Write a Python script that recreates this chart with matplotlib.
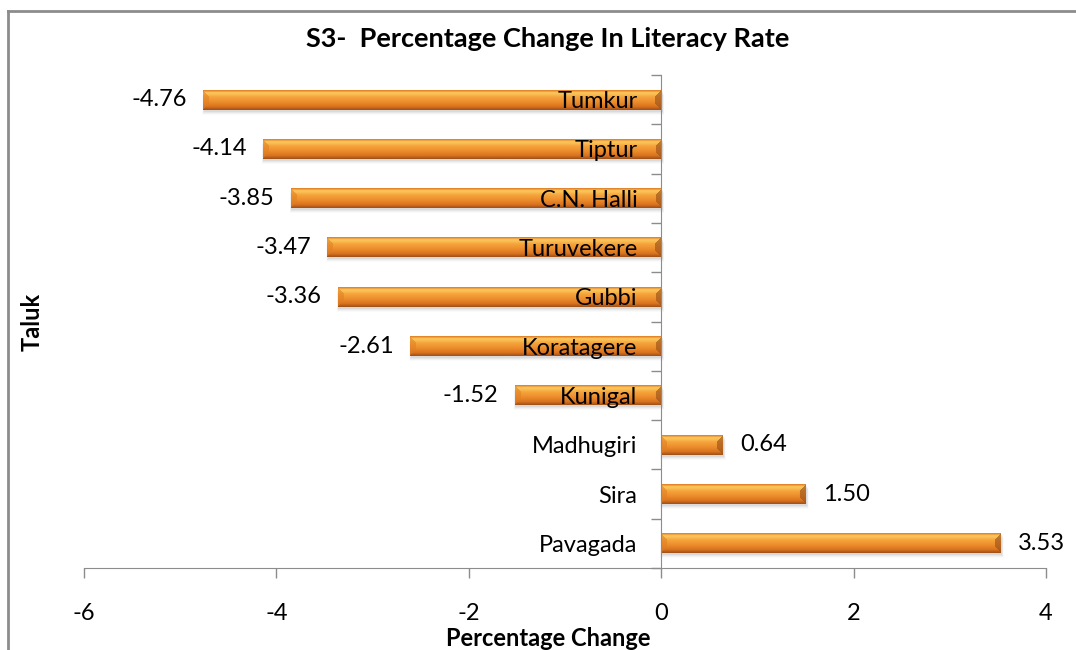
import matplotlib.pyplot as plt
import numpy as np
from matplotlib.colors import to_rgb
from matplotlib.lines import Line2D
from matplotlib.patches import Rectangle

# Literacy rate change per taluk, top to bottom as drawn
taluks = ['Tumkur', 'Tiptur', 'C.N. Halli', 'Turuvekere', 'Gubbi',
          'Koratagere', 'Kunigal', 'Madhugiri', 'Sira', 'Pavagada']
pct_change = [-4.76, -4.14, -3.85, -3.47, -3.36, -2.61, -1.52, 0.64, 1.50, 3.53]
x_ticks = [-6, -4, -2, 0, 2, 4]

plt.rcParams['font.family'] = ['Lato', 'DejaVu Sans']

W, H = 1076, 650
fig = plt.figure(figsize=(W / 100, H / 100), dpi=100)
ax = fig.add_axes([84 / W, 1 - 568 / H, (1046 - 84) / W, (568 - 75) / H])

BAR_H = 0.4
px_per_x = (1046 - 84) / 10.0
px_per_y = (568 - 75) / 10.0

# vertical shading of the bar face, top to bottom
grad_pos = [0.0, 0.12, 0.35, 0.6, 0.85, 1.0]
grad_col = ['#e3852a', '#fcc95c', '#f5a33c', '#ec8d2c', '#d8721f', '#a4531a']


def bevel_bar(width_px, height_px, bevel=6):
    # shaded orange bar with bevelled ends, returned as an RGB array
    h, w = int(round(height_px)), max(int(round(width_px)), 2)
    yy, xx = np.mgrid[0:h, 0:w]
    t = yy / max(h - 1, 1)
    cols = np.array([to_rgb(c) for c in grad_col])
    img = np.stack([np.interp(t, grad_pos, cols[:, k]) for k in range(3)], axis=-1)
    d_top, d_bot = yy, h - 1 - yy
    d_left, d_right = xx, w - 1 - xx
    d = np.stack([d_top, d_bot, d_left, d_right])
    nearest = d.argmin(axis=0)
    in_bevel = d.min(axis=0) < bevel
    left_m = in_bevel & (nearest == 2)
    right_m = in_bevel & (nearest == 3)
    img[left_m] = 0.45 * img[left_m] + 0.55 * np.array(to_rgb('#e07e22'))
    img[right_m] = 0.35 * img[right_m] + 0.65 * np.array(to_rgb('#9c5219'))
    return np.clip(img, 0, 1)


for i, (name, v) in enumerate(zip(taluks, pct_change)):
    x0, x1 = min(0, v), max(0, v)
    y0, y1 = i - BAR_H / 2, i + BAR_H / 2
    # soft shadow under each bar
    for k, a in enumerate([0.10, 0.07, 0.05, 0.03]):
        off = (2 + k) / px_per_y
        grow = (1 + k) / px_per_x
        ax.add_patch(Rectangle((x0 + 1 / px_per_x - grow / 2, y0 + off),
                               x1 - x0 + grow, BAR_H,
                               facecolor='#666666', edgecolor='none',
                               alpha=a, zorder=1))
    img = bevel_bar((x1 - x0) * px_per_x, BAR_H * px_per_y)
    ax.imshow(img, extent=(x0, x1, y1, y0), aspect='auto',
              interpolation='bilinear', zorder=2)
    if v < 0:
        ax.text(v - 0.17, i, f'{v:.2f}', ha='right', va='center',
                fontsize=17, color='black')
    else:
        ax.text(v + 0.18, i, f'{v:.2f}', ha='left', va='center',
                fontsize=17, color='black')

ax.set_xlim(-6, 4)
ax.set_ylim(9.5, -0.5)
ax.set_xticks(x_ticks)
ax.set_xticklabels([str(t) for t in x_ticks])
ax.set_yticks(range(len(taluks)))
ax.set_yticklabels(taluks)
ax.set_yticks(np.arange(-0.5, len(taluks), 1.0), minor=True)

ax.set_axisbelow(False)
for s in ['top', 'right']:
    ax.spines[s].set_visible(False)
ax.spines['left'].set_position(('data', 0))
ax.spines['left'].set_color('#8c8c8c')
ax.spines['bottom'].set_color('#8c8c8c')
ax.spines['left'].set_zorder(4)

ax.tick_params(axis='x', direction='out', length=7, width=1, color='#8c8c8c',
               labelsize=17, pad=18)
ax.tick_params(axis='y', which='major', length=0, labelsize=17, pad=17)
ax.tick_params(axis='y', which='minor', direction='out', length=7, width=1,
               color='#8c8c8c')
ax.yaxis.set_zorder(5)
ax.xaxis.set_zorder(5)
ax.set_facecolor('none')

fig.text(548 / W, 1 - 39 / H, 'S3-  Percentage Change In Literacy Rate',
         ha='center', va='center', fontsize=19.5, fontweight='bold')
fig.text(548 / W, 1 - 638 / H, 'Percentage Change', ha='center',
         va='center', fontsize=17, fontweight='bold')
fig.text(32 / W, 1 - 322 / H, 'Taluk', ha='center', va='center',
         rotation=90, fontsize=17, fontweight='bold')

# chart frame (only top and left edges fall inside the image)
fig.add_artist(Line2D([8 / W, 8 / W], [0, 1 - 11 / H], color='#8c8c8c',
                      linewidth=2, transform=fig.transFigure))
fig.add_artist(Line2D([8 / W, 1], [1 - 11 / H, 1 - 11 / H], color='#8c8c8c',
                      linewidth=2, transform=fig.transFigure))

fig.savefig('out.png', dpi=100)
